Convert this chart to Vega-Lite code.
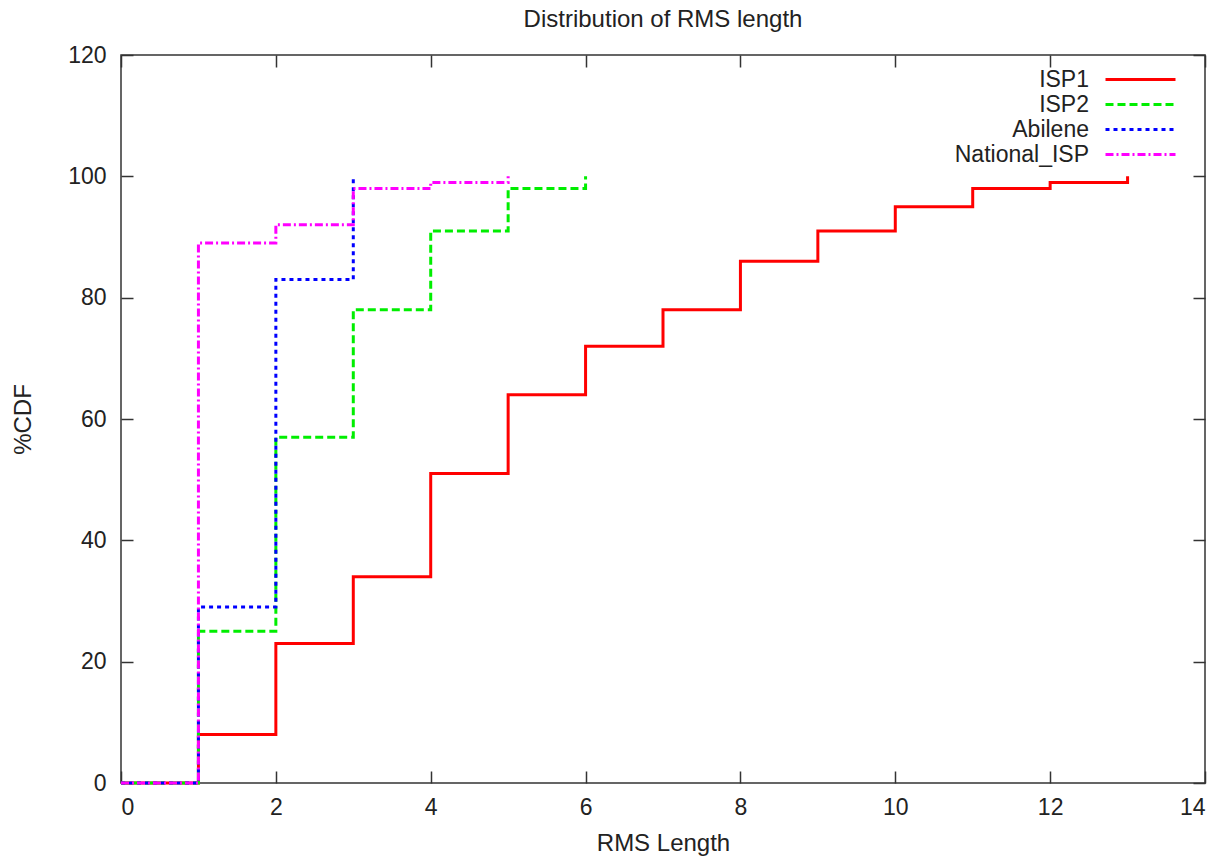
{
  "$schema": "https://vega.github.io/schema/vega-lite/v6.json",
  "width": 1084,
  "height": 728,
  "autosize": {"type": "none"},
  "padding": {"left": 121, "top": 55, "right": 27, "bottom": 74},
  "background": "white",
  "config": {
    "font": "Liberation Sans",
    "view": {"stroke": "#333", "strokeWidth": 1.5},
    "axis": {
      "grid": false,
      "domain": false,
      "tickColor": "#333",
      "tickWidth": 1.5,
      "tickSize": -12,
      "labelFont": "Liberation Sans",
      "labelFontSize": 23,
      "labelColor": "#222",
      "titleFont": "Liberation Sans",
      "titleFontSize": 24,
      "titleFontWeight": "normal",
      "titleColor": "#222"
    },
    "legend": {
      "orient": "none",
      "legendX": 1008,
      "legendY": 13,
      "padding": 0,
      "symbolType": "M -3.5 0 L 3.5 0",
      "symbolSize": 400,
      "symbolStrokeWidth": 3,
      "labelFont": "Liberation Sans",
      "labelFontSize": 23,
      "labelColor": "#222",
      "labelAlign": "right",
      "labelOffset": -63,
      "rowPadding": 1
    }
  },
  "title": {
    "text": "Distribution of RMS length",
    "fontSize": 24,
    "fontWeight": "normal",
    "font": "Liberation Sans",
    "color": "#222",
    "offset": 12
  },
  "data": {
    "values": [
      {"series": "ISP1", "x": 0, "y": 0},
      {"series": "ISP1", "x": 1, "y": 8},
      {"series": "ISP1", "x": 2, "y": 23},
      {"series": "ISP1", "x": 3, "y": 34},
      {"series": "ISP1", "x": 4, "y": 51},
      {"series": "ISP1", "x": 5, "y": 64},
      {"series": "ISP1", "x": 6, "y": 72},
      {"series": "ISP1", "x": 7, "y": 78},
      {"series": "ISP1", "x": 8, "y": 86},
      {"series": "ISP1", "x": 9, "y": 91},
      {"series": "ISP1", "x": 10, "y": 95},
      {"series": "ISP1", "x": 11, "y": 98},
      {"series": "ISP1", "x": 12, "y": 99},
      {"series": "ISP1", "x": 13, "y": 100},
      {"series": "ISP2", "x": 0, "y": 0},
      {"series": "ISP2", "x": 1, "y": 25},
      {"series": "ISP2", "x": 2, "y": 57},
      {"series": "ISP2", "x": 3, "y": 78},
      {"series": "ISP2", "x": 4, "y": 91},
      {"series": "ISP2", "x": 5, "y": 98},
      {"series": "ISP2", "x": 6, "y": 100},
      {"series": "Abilene", "x": 0, "y": 0},
      {"series": "Abilene", "x": 1, "y": 29},
      {"series": "Abilene", "x": 2, "y": 83},
      {"series": "Abilene", "x": 3, "y": 100},
      {"series": "National_ISP", "x": 0, "y": 0},
      {"series": "National_ISP", "x": 1, "y": 89},
      {"series": "National_ISP", "x": 2, "y": 92},
      {"series": "National_ISP", "x": 3, "y": 98},
      {"series": "National_ISP", "x": 4, "y": 99},
      {"series": "National_ISP", "x": 5, "y": 100}
    ]
  },
  "layer": [
    {
      "mark": {"type": "line", "interpolate": "step-after", "strokeWidth": 3},
      "encoding": {
        "x": {
          "field": "x",
          "type": "quantitative",
          "scale": {"domain": [0, 14], "nice": false, "zero": false},
          "axis": {"values": [0, 2, 4, 6, 8, 10, 12, 14], "title": "RMS Length", "labelPadding": 25, "titlePadding": 12}
        },
        "y": {
          "field": "y",
          "type": "quantitative",
          "scale": {"domain": [0, 120], "nice": false},
          "axis": {"values": [0, 20, 40, 60, 80, 100, 120], "title": "%CDF", "labelPadding": 27, "titlePadding": 32}
        },
        "color": {
          "field": "series",
          "type": "nominal",
          "title": null,
          "scale": {"domain": ["ISP1", "ISP2", "Abilene", "National_ISP"], "range": ["#ff0000", "#00ee00", "#0000ff", "#ff00ff"]}
        },
        "strokeDash": {
          "field": "series",
          "type": "nominal",
          "title": null,
          "scale": {"domain": ["ISP1", "ISP2", "Abilene", "National_ISP"], "range": [[1, 0], [8, 4], [4, 4], [8, 3, 2, 3]]}
        }
      }
    },
    {
      "mark": {"type": "point", "opacity": 0},
      "encoding": {
        "x": {
          "field": "x",
          "type": "quantitative",
          "scale": {"domain": [0, 14], "nice": false, "zero": false},
          "axis": {"orient": "top", "values": [0, 2, 4, 6, 8, 10, 12, 14], "labels": false, "title": null}
        },
        "y": {
          "field": "y",
          "type": "quantitative",
          "scale": {"domain": [0, 120], "nice": false},
          "axis": {"orient": "right", "values": [0, 20, 40, 60, 80, 100, 120], "labels": false, "title": null}
        }
      }
    }
  ],
  "resolve": {"scale": {"x": "independent", "y": "independent"}}
}
